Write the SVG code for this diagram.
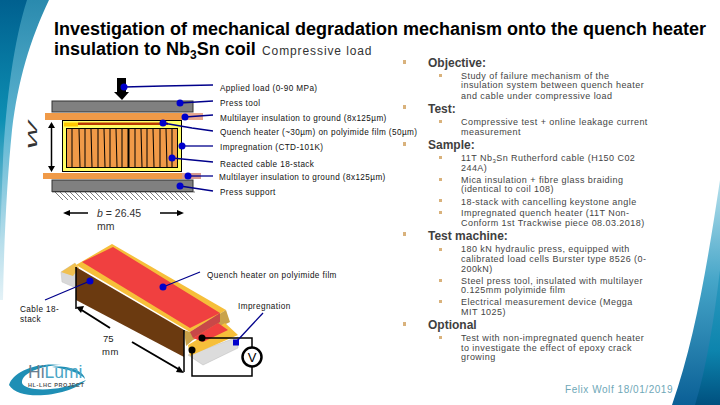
<svg xmlns="http://www.w3.org/2000/svg" width="720" height="405" viewBox="0 0 720 405">
<defs>
<linearGradient id="blueL" x1="0" y1="0" x2="0" y2="1"><stop offset="0" stop-color="#2a8aae"/><stop offset="0.45" stop-color="#62b8d4"/><stop offset="1" stop-color="#e4f2f7"/></linearGradient>
<linearGradient id="blueL2" x1="0" y1="0" x2="0" y2="1"><stop offset="0" stop-color="#00608f"/><stop offset="0.5" stop-color="#0d8fb3"/><stop offset="1" stop-color="#9fd3e3"/></linearGradient>
<linearGradient id="blueR" x1="0" y1="0" x2="0" y2="1"><stop offset="0" stop-color="#b6e0ec"/><stop offset="0.45" stop-color="#45a5c8"/><stop offset="1" stop-color="#0a5f96"/></linearGradient>
<linearGradient id="blueR2" x1="0" y1="0" x2="0" y2="1"><stop offset="0" stop-color="#2e9bc0"/><stop offset="0.6" stop-color="#0d84ad"/><stop offset="1" stop-color="#00507f"/></linearGradient>
</defs>
<style>
text{font-family:"Liberation Sans",Arial,sans-serif}
.t{font-size:18px;font-weight:bold;fill:#000}
.l{font-size:8.2px;fill:#111;letter-spacing:.4px}
.h{font-size:12px;font-weight:bold;fill:#3f3f3f}
.b{font-size:9px;fill:#444;letter-spacing:.45px}
.bu{fill:#d9b27c}
.ld{stroke:#00008b;stroke-width:1.3;fill:none}
.dot{fill:#0000cc}
.bk{stroke:#000;fill:none}
</style>
<rect width="720" height="405" fill="#fff"/>
<g id="swoosh">
<path d="M0 0H49C30 40 18 80 12 130 7 180 4 240 3 300H0Z" fill="url(#blueL)"/>
<path d="M0 0H27C14 40 6 100 3 160L0 240Z" fill="url(#blueL2)"/>
<path d="M720 180C708 260 695 340 672 405H720Z" fill="url(#blueR)"/>
<path d="M720 270C714 320 706 370 695 405H720Z" fill="url(#blueR2)"/>
</g>
<g id="title">
<text class="t" x="54" y="35">Investigation of mechanical degradation mechanism onto the quench heater</text>
<text class="t" x="54" y="55">insulation to Nb<tspan font-size="12" dy="4">3</tspan><tspan dy="-4">Sn coil</tspan></text>
<text x="262" y="55" font-size="12" letter-spacing=".9" fill="#333">Compressive load</text>
</g>
<g id="cross-section">
<path d="M117 78h9v14h3l-7 8-8-8h3z" fill="#000"/>
<rect x="52" y="101" width="141" height="11" fill="#808080" stroke="#333"/>
<rect x="45" y="113" width="137" height="7" fill="#f09a48"/>
<rect x="182" y="113" width="21" height="7" fill="#e8a890"/>
<rect x="62.500" y="120.500" width="119" height="51" fill="#ffff66" stroke="#000"/>
<rect x="64" y="122.500" width="14" height="4" fill="#ffc800"/>
<rect x="78" y="122.500" width="90" height="2.500" fill="#b83a00"/>
<rect x="66.500" y="128.500" width="111" height="39" fill="#f09a48" stroke="#000"/>
<g class="bk" stroke-width="1"><path d="M72 129v38M79 129l1 38M85 129v38M91 129l1 38M98 129v38M104 129l1 38M110 129v38M116 129l1 38M122 129v38M135 129v38M141 129l1 38M147 129v38M153 129l1 38M160 129v38M166 129l1 38M172 129v38"/><path d="M128.500 129v38" stroke-width="2"/></g>
<rect x="43" y="173" width="139" height="6" fill="#f09a48"/>
<rect x="182" y="173" width="19" height="6" fill="#d89a90"/>
<rect x="52" y="180" width="141" height="11.500" fill="#808080" stroke="#333"/>
<path d="M52 192H195M55 192l8 8M60 192l8 8M65 192l8 8M70 192l8 8M75 192l8 8M80 192l8 8M85 192l8 8M90 192l8 8M95 192l8 8M100 192l8 8M105 192l8 8M110 192l8 8M115 192l8 8M120 192l8 8M125 192l8 8M130 192l8 8M135 192l8 8M140 192l8 8M145 192l8 8M150 192l8 8M155 192l8 8M160 192l8 8M165 192l8 8M170 192l8 8M175 192l8 8M180 192l8 8M185 192l8 8" stroke="#444" stroke-width=".7" fill="none"/>
<path d="M51.500 125v44" class="bk" stroke-width="1.500"/>
<path d="M51.500 122l-3.500 6h7zM51.500 172l-3.500-6h7z" fill="#000"/>
<text x="0" y="0" font-size="12" fill="#333" font-style="italic" transform="translate(37 150) rotate(-90) scale(2.5 1)">W</text>
<path d="M68 213h20M160 213h18" class="bk" stroke-width="1.500"/>
<path d="M63 213l7-3v6zM184 213l-7-3v6z" fill="#000"/>
<text x="97" y="216.500" font-size="10.500" fill="#333"><tspan font-style="italic">b</tspan> = 26.45</text>
<text x="97" y="230" font-size="10.500" fill="#333">mm</text>
</g>
<g id="sample-3d">
<path d="M61 272l14-9 1 25-14-6z" fill="#d9d9d9" stroke="#c4c4c4" stroke-width=".5"/>
<path d="M61 272l14-9 4 5-6 8z" fill="#f0c050"/>
<path d="M76 267L184 330V357L76 300Z" fill="#6b3a10"/>
<path d="M76 265L112 244 226 310 190 332Z" fill="#f6bf3a"/>
<path d="M82 262L113 247 220 313 190 328Z" fill="#f04040"/>
<path d="M188 355L238 337V348L203 365Z" fill="#dcdcdc" stroke="#bbb" stroke-width=".5"/>
<path d="M184 330L190 332 226 310 230 322 193 340 186 346Z" fill="#c9a24a"/>
<path d="M190 332L220 313V322L193 338Z" fill="#c84848"/>
<path d="M188 345L225 323 238 335 208 348 190 356Z" fill="#f6bf3a"/>
<path d="M193 338L218 323 228 330 203 342Z" fill="#f04040"/>
</g>
<g id="sample-circuit">
<path d="M76 267V309M184 330V372" class="bk" stroke-width="1.500"/>
<path d="M80 309L110 328M132 342L180 370" class="bk" stroke-width="2"/>
<path d="M76 307l8-1-3 7zM184 373l-8-1 3-6z" fill="#000"/>
<path d="M202 338H252V348M192 350V376H252V367" class="bk" stroke-width="1.500"/>
<circle cx="202" cy="338" r="3.500" fill="#000"/>
<circle cx="192" cy="350" r="3.500" fill="#000"/>
<circle cx="252" cy="357" r="9.500" fill="#fff" stroke="#000" stroke-width="2.500"/>
<text x="252" y="362" font-size="13" text-anchor="middle" fill="#000">V</text>
</g>
<g id="connectors">
<path class="ld" d="M124 87L163 86 213 85"/>
<path class="ld" d="M180 103L213 101"/>
<path class="ld" d="M185 117L213 115"/>
<path class="ld" d="M163 123L192 128 213 131"/>
<path class="ld" d="M182 146L213 146"/>
<path class="ld" d="M172 158L213 162"/>
<path class="ld" d="M188 176L213 176"/>
<path class="ld" d="M180 186L213 191"/>
<path class="ld" d="M163 287L200 272" stroke-width="1.500"/>
<path class="ld" d="M90 281L45 300" stroke-width="1.500"/>
<path class="ld" d="M236 342L263 313" stroke-width="1.500"/>
</g>
<g id="connector-dots">
<circle class="dot" cx="124" cy="87" r="3.500"/>
<circle class="dot" cx="180" cy="103" r="3.500"/>
<circle class="dot" cx="185" cy="117" r="3.500"/>
<circle class="dot" cx="163" cy="123" r="3.500"/>
<circle class="dot" cx="182" cy="146" r="3.500"/>
<circle class="dot" cx="172" cy="158" r="3.500"/>
<circle class="dot" cx="188" cy="176" r="3.500"/>
<circle class="dot" cx="180" cy="186" r="3.500"/>
<circle class="dot" cx="163" cy="287" r="3.500"/>
<circle class="dot" cx="90" cy="281" r="3.500"/>
<rect class="dot" x="233" y="339.500" width="6" height="6"/>
</g>
<g id="labels">
<text class="l" x="220" y="91">Applied load (0-90 MPa)</text>
<text class="l" x="220" y="106">Press tool</text>
<text class="l" x="220" y="121">Multilayer insulation to ground (8x125µm)</text>
<text class="l" x="220" y="135">Quench heater (~30µm) on polyimide film (50µm)</text>
<text class="l" x="220" y="150">Impregnation (CTD-101K)</text>
<text class="l" x="220" y="167">Reacted cable 18-stack</text>
<text class="l" x="219" y="180">Multilayer insulation to ground (8x125µm)</text>
<text class="l" x="220" y="195">Press support</text>
<text class="l" x="207" y="278">Quench heater on polyimide film</text>
<text class="l" x="238" y="309">Impregnation</text>
<text class="l" x="20" y="312">Cable 18-</text>
<text class="l" x="20" y="322">stack</text>
<text x="103" y="342" font-size="9.500" fill="#222">75</text>
<text x="102" y="355" font-size="9.500" fill="#222" letter-spacing=".6">mm</text>
</g>
<g id="bullets" class="bu">
<rect x="403" y="60" width="3" height="4"/><rect x="403" y="105" width="3" height="4"/><rect x="403" y="142" width="3" height="4"/><rect x="403" y="232" width="3" height="4"/><rect x="403" y="322" width="3" height="4"/>
<rect x="439" y="74" width="3" height="3"/><rect x="439" y="120" width="3" height="3"/><rect x="439" y="156" width="3" height="3"/><rect x="439" y="178" width="3" height="3"/><rect x="439" y="199" width="3" height="3"/><rect x="439" y="211" width="3" height="3"/><rect x="439" y="248" width="3" height="3"/><rect x="439" y="279" width="3" height="3"/><rect x="439" y="300" width="3" height="3"/><rect x="439" y="336" width="3" height="3"/>
</g>
<g id="objectives">
<text class="h" x="428" y="67">Objective:</text>
<text class="b" x="461" y="79">Study of failure mechanism of the</text>
<text class="b" x="461" y="88">insulation system between quench heater</text>
<text class="b" x="461" y="99">and cable under compressive load</text>
<text class="h" x="428" y="113">Test:</text>
<text class="b" x="461" y="125">Compressive test + online leakage current</text>
<text class="b" x="461" y="135">measurement</text>
<text class="h" x="428" y="149">Sample:</text>
<text class="b" x="461" y="161">11T Nb<tspan font-size="6" dy="2">3</tspan><tspan dy="-2">Sn Rutherford cable  (H150 C02</tspan></text>
<text class="b" x="461" y="171">244A)</text>
<text class="b" x="461" y="183">Mica insulation + fibre glass braiding</text>
<text class="b" x="461" y="192">(identical to coil 108)</text>
<text class="b" x="461" y="205">18-stack with cancelling keystone angle</text>
<text class="b" x="461" y="216">Impregnated quench heater (11T Non-</text>
<text class="b" x="461" y="226">Conform 1st Trackwise piece 08.03.2018)</text>
<text class="h" x="428" y="240">Test machine:</text>
<text class="b" x="461" y="252">180 kN hydraulic press, equipped with</text>
<text class="b" x="461" y="262">calibrated load cells Burster type 8526 (0-</text>
<text class="b" x="461" y="272">200kN)</text>
<text class="b" x="461" y="284">Steel press tool, insulated with multilayer</text>
<text class="b" x="461" y="293">0.125mm polyimide film</text>
<text class="b" x="461" y="305">Electrical measurement device   (Megga</text>
<text class="b" x="461" y="315">MIT 1025)</text>
<text class="h" x="428" y="329">Optional</text>
<text class="b" x="461" y="341">Test with non-impregnated quench heater</text>
<text class="b" x="461" y="351">to investigate the effect of epoxy crack</text>
<text class="b" x="461" y="360">growing</text>
</g>
<text id="footer" x="565" y="393" font-size="10" fill="#6fa8b8" letter-spacing=".55">Felix Wolf 18/01/2019</text>
<g id="logo">
<path d="M9 385C13 372 35 362 62 365 45 365 21 372 22 383 25 392 60 392 86 380 72 395 20 403 9 385Z" fill="#1f8fb5"/>
<path d="M52 367C68 365 84 371 85 379 80 373 68 369 52 367Z" fill="#1f8fb5"/>
<text x="28" y="378" font-size="17.500" fill="#6b7f90">Hi<tspan fill="#4aa6c6">Lumi</tspan></text>
<text x="28" y="387" font-size="5.500" font-weight="bold" fill="#555" letter-spacing=".6">HL-LHC PROJECT</text>
</g>
</svg>
